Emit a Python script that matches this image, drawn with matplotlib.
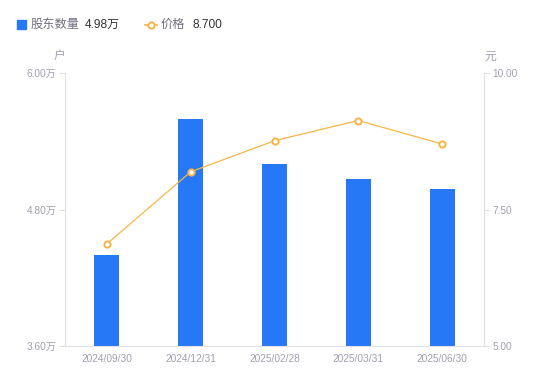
import matplotlib
matplotlib.use("Agg")
import matplotlib.pyplot as plt
from matplotlib.lines import Line2D

plt.rcParams['font.family'] = ['Liberation Sans', 'Noto Sans CJK SC', 'DejaVu Sans']

dates = ["2024/09/30", "2024/12/31", "2025/02/28", "2025/03/31", "2025/06/30"]
holders = [4.40, 5.60, 5.20, 5.07, 4.98]   # 万户
price = [6.87, 8.19, 8.76, 9.13, 8.70]      # 元
left_ticks = [3.60, 4.80, 6.00]
right_ticks = [5.00, 7.50, 10.00]

bar_color = "#2778F6"
line_color = "#F8B545"
tick_color = "#A0A0B0"
axis_color = "#E0E0E6"

fig = plt.figure(figsize=(5.5, 3.81), dpi=100)
ax = fig.add_axes([65/550, 35/381, 419/550, 273/381])
ax2 = ax.twinx()

x = list(range(len(dates)))
ax.bar(x, holders, width=0.3, color=bar_color, zorder=2)
ax.set_xlim(-0.5, len(dates) - 0.5)
ax.set_ylim(left_ticks[0], left_ticks[-1])
ax.set_yticks(left_ticks)
ax.set_yticklabels([f"{v:.2f}万" for v in left_ticks])
ax.set_xticks(x)
ax.set_xticklabels(dates)

ax2.plot(x, price, color=line_color, lw=0.9, marker="o", ms=4.5,
         markerfacecolor="white", markeredgecolor=line_color, markeredgewidth=1.4, zorder=3)
ax2.set_ylim(right_ticks[0], right_ticks[-1])
ax2.set_yticks(right_ticks)
ax2.set_yticklabels([f"{v:.2f}" for v in right_ticks])

for a in (ax, ax2):
    for s in a.spines.values():
        s.set_visible(False)
ax.spines['left'].set_visible(True)
ax.spines['left'].set_color(axis_color)
ax.spines['bottom'].set_visible(True)
ax.spines['bottom'].set_color(axis_color)
ax2.spines['right'].set_visible(True)
ax2.spines['right'].set_color(axis_color)

ax.tick_params(axis='y', colors=axis_color, labelcolor=tick_color, labelsize=7.3, length=4, width=0.8, pad=2)
ax.tick_params(axis='x', length=0, labelcolor=tick_color, labelsize=7.3, pad=6)
ax2.tick_params(axis='y', colors=axis_color, labelcolor=tick_color, labelsize=7.3, length=4, width=0.8, pad=2)

fig.text(59/550, 1 - 57/381, "户", color=tick_color, fontsize=8.5, ha="center", va="center")
fig.text(490/550, 1 - 57/381, "元", color=tick_color, fontsize=8.5, ha="center", va="center")

# legend
fig.patches.append(plt.Rectangle((17/550, 1 - 29/381), 9/550, 9/381, transform=fig.transFigure,
                                 color=bar_color, figure=fig))
fig.text(31/550, 1 - 24.5/381, "股东数量", color="#707080", fontsize=8.8, va="center")
fig.text(85/550, 1 - 24.5/381, f"{holders[-1]:.2f}万", color="#333333", fontsize=8.6, va="center")
fig.add_artist(Line2D([145/550, 157/550], [1 - 24.5/381, 1 - 24.5/381], transform=fig.transFigure,
                      color=line_color, lw=1.2))
fig.add_artist(Line2D([151/550], [1 - 24.5/381], transform=fig.transFigure, color=line_color,
                      marker="o", ms=4.5, markerfacecolor="white", markeredgewidth=1.4, lw=0))
fig.text(161/550, 1 - 24.5/381, "价格", color="#707080", fontsize=8.8, va="center")
fig.text(192/550, 1 - 24.5/381, f"{price[-1]:.3f}", color="#333333", fontsize=8.6, va="center")

fig.savefig("out.png", dpi=100)
